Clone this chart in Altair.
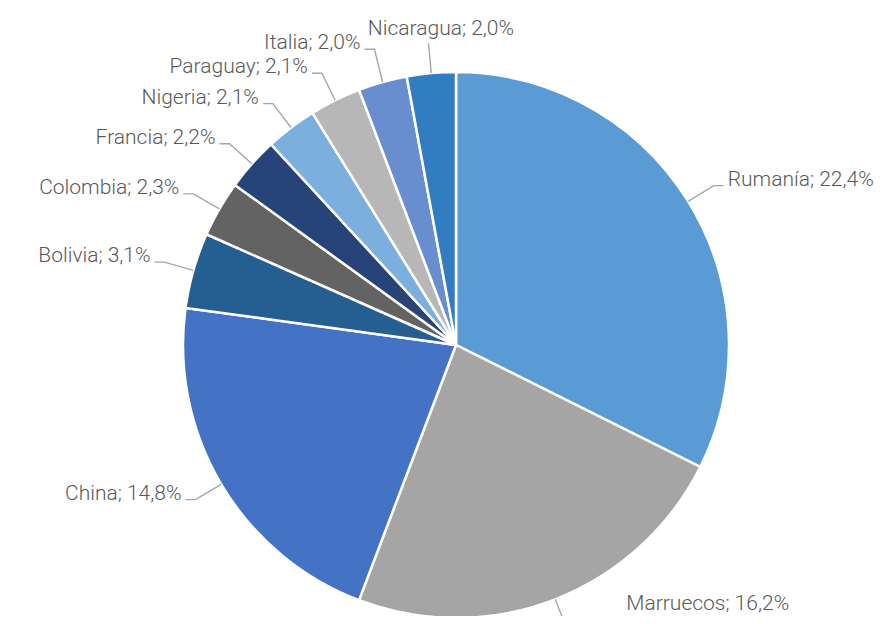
import math
import altair as alt
import pandas as pd

# ---- data ----
countries = ["Rumanía", "Marruecos", "China", "Bolivia", "Colombia",
             "Francia", "Nigeria", "Paraguay", "Italia", "Nicaragua"]
shares = [22.4, 16.2, 14.8, 3.1, 2.3, 2.2, 2.1, 2.1, 2.0, 2.0]
colors = ["#5B9BD5", "#A5A5A5", "#4472C4", "#255E91", "#636363",
          "#264478", "#7CAFDD", "#B7B7B7", "#698ED0", "#327DC2"]

# ---- layout ----
W, H = 872, 608          # view size (px)
CX, CY = 448, 337        # pie centre inside the view
R = 273                  # pie radius
R_ELBOW = 303            # radius of the leader-line elbow
TICK = 10                # horizontal part of the leader
GAP = 4                  # gap between leader and text
MIN_SEP = 24             # minimum vertical distance between labels
R_CLEAR = 300            # labels keep outside this radius
FONT = 21
CHAR_W = 0.46 * FONT     # rough text width per character

total = sum(shares)
labels = [f"{c}; {s:.1f}%".replace(".", ",") for c, s in zip(countries, shares)]

slices = pd.DataFrame({"country": countries, "share": shares,
                       "idx": list(range(len(countries))), "label": labels})

# ---- label placement derived from the slice angles ----
info = []
cum = 0.0
for c, s, l in zip(countries, shares, labels):
    mid = (cum + s / 2) / total * 2 * math.pi
    cum += s
    sx, sy = math.sin(mid), -math.cos(mid)
    align = "center" if abs(sx) < 0.15 else ("left" if sx > 0 else "right")
    off = 14 if align == "center" else 6
    info.append(dict(country=c, label=l, sx=sx, sy=sy,
                     ex=R * sx, ey=R * sy, bx=R_ELBOW * sx, by=R_ELBOW * sy,
                     align=align, off=off, ty=R_ELBOW * sy - off))

# resolve overlaps on each side, moving away from the horizontal axis
for side in ("left", "right"):
    group = [d for d in info if d["align"] == side]
    upper = sorted([d for d in group if d["ty"] < 0], key=lambda d: -d["ty"])
    lower = sorted([d for d in group if d["ty"] >= 0], key=lambda d: d["ty"])
    prev = None
    for d in upper:
        if prev is not None and d["ty"] > prev - MIN_SEP:
            d["ty"] = prev - MIN_SEP
            d["by"] = d["ty"] + d["off"]
        prev = d["ty"]
    prev = None
    for d in lower:
        if prev is not None and d["ty"] < prev + MIN_SEP:
            d["ty"] = prev + MIN_SEP
            d["by"] = d["ty"] + d["off"]
        prev = d["ty"]

ylimit = H - CY - 12
for d in info:
    if d["align"] == "center":
        d["px"] = d["bx"]
        d["tx"] = d["bx"]
        continue
    side = 1 if d["align"] == "left" else -1
    d["px"] = d["bx"] + side * TICK
    d["tx"] = d["px"] + side * GAP
    if d["ty"] > ylimit:
        d["ty"] = ylimit
    top, bot = d["ty"] - 12, d["ty"] + 12
    ynear = 0 if top < 0 < bot else min(abs(top), abs(bot))
    if ynear < R_CLEAR:
        need = math.sqrt(R_CLEAR ** 2 - ynear ** 2)
        d["tx"] = max(d["tx"], need) if side > 0 else min(d["tx"], -need)

# centred labels slide sideways to clear their neighbours
for d in info:
    if d["align"] != "center":
        continue
    half = len(d["label"]) * CHAR_W / 2
    for o in info:
        if o["align"] == "right" and abs(o["ty"] - d["ty"]) < MIN_SEP:
            d["tx"] = max(d["tx"], o["tx"] + 8 + half)
        if o["align"] == "left" and abs(o["ty"] - d["ty"]) < MIN_SEP:
            d["tx"] = min(d["tx"], o["tx"] - 8 - half)

rows = []
for d in info:
    rows.append(dict(country=d["country"], step=0, x=d["ex"], y=d["ey"]))
    rows.append(dict(country=d["country"], step=1, x=d["bx"], y=d["by"]))
    rows.append(dict(country=d["country"], step=2, x=d["px"], y=d["by"]))
leaders = pd.DataFrame(rows)
lab = pd.DataFrame([dict(label=d["label"], align=d["align"], x=d["tx"], y=d["ty"])
                    for d in info])

xs = alt.Scale(domain=[-CX, W - CX], nice=False, zero=False)
ys = alt.Scale(domain=[-CY, H - CY], nice=False, zero=False, reverse=True)

pie = alt.Chart(slices).mark_arc(outerRadius=R, stroke="white", strokeWidth=2.5).encode(
    theta=alt.Theta("share:Q", stack=True),
    order=alt.Order("idx:Q"),
    color=alt.Color("country:N", scale=alt.Scale(domain=countries, range=colors), legend=None),
    x=alt.value(CX),
    y=alt.value(CY),
)

lines = alt.Chart(leaders).mark_line(color="#A6A6A6", strokeWidth=1.4).encode(
    x=alt.X("x:Q", scale=xs, axis=None),
    y=alt.Y("y:Q", scale=ys, axis=None),
    detail="country:N",
    order="step:Q",
)


def text_layer(align):
    return alt.Chart(lab).transform_filter(alt.datum.align == align).mark_text(
        align=align, baseline="middle", font="Roboto", fontWeight=300,
        fontSize=FONT, color="#595959",
    ).encode(
        x=alt.X("x:Q", scale=xs, axis=None),
        y=alt.Y("y:Q", scale=ys, axis=None),
        text="label:N",
    )


chart = alt.layer(pie, lines, text_layer("left"), text_layer("right"), text_layer("center")).properties(
    width=W, height=H, padding=0,
    autosize=alt.AutoSizeParams(type="none"),
    background="white",
).configure_view(strokeWidth=0)

chart.save("out.html", embed_options={"renderer": "svg", "actions": False})
